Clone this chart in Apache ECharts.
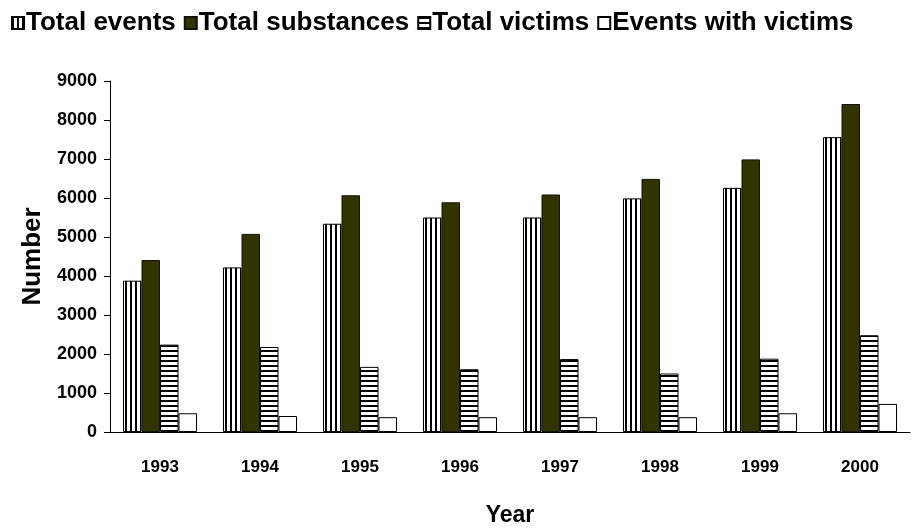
<!DOCTYPE html>
<html>
<head>
<meta charset="utf-8">
<script src="https://cdn.jsdelivr.net/npm/echarts@6/dist/echarts.min.js"></script>
<style>
  html, body { margin: 0; padding: 0; background: #fff; }
  #chart { width: 917px; height: 531px; }
</style>
</head>
<body>
<div id="chart"></div>
<script>
// data
const years = ['1993', '1994', '1995', '1996', '1997', '1998', '1999', '2000'];
const totalEvents = [3880, 4220, 5340, 5500, 5500, 5990, 6260, 7560];
const totalSubstances = [4410, 5080, 6070, 5890, 6090, 6490, 6990, 8410];
const totalVictims = [2240, 2180, 1670, 1610, 1870, 1500, 1880, 2480];
const eventsWithVictims = [480, 410, 380, 380, 380, 380, 480, 720];
const seriesNames = ['Total events', 'Total substances', 'Total victims', 'Events with victims'];

// small canvas patterns for striped bars
function makeStripes(vertical) {
  const c = document.createElement('canvas');
  c.width = vertical ? 5 : 1;
  c.height = vertical ? 1 : 5;
  const ctx = c.getContext('2d');
  ctx.fillStyle = '#fff';
  ctx.fillRect(0, 0, c.width, c.height);
  ctx.fillStyle = '#000';
  if (vertical) ctx.fillRect(0, 0, 2, 1);
  else ctx.fillRect(0, 0, 1, 2);
  return { image: c, repeat: 'repeat' };
}

const chart = echarts.init(document.getElementById('chart'));
const fontMain = 'Liberation Sans, Arial, sans-serif';

const barBase = {
  type: 'bar',
  barGap: '0%',
  barCategoryGap: '26%',
  animation: false
};

const option = {
  backgroundColor: '#fff',
  textStyle: { fontFamily: fontMain, color: '#000' },
  legend: {
    top: 5,
    left: 6,
    icon: 'rect',
    itemWidth: 12,
    itemHeight: 12,
    itemGap: 8,
    textStyle: {
      fontSize: 26,
      fontWeight: 'bold',
      color: '#000',
      padding: [0, 0, 0, -3]
    },
    data: seriesNames
  },
  grid: { left: 110, right: 7, top: 81, bottom: 99, outerBoundsMode: 'none' },
  xAxis: {
    type: 'category',
    data: years,
    name: 'Year',
    nameLocation: 'middle',
    nameGap: 72,
    nameTextStyle: { fontSize: 23, fontWeight: 'bold' },
    axisLine: { lineStyle: { color: '#000', width: 1 } },
    axisTick: { show: false },
    axisLabel: { fontSize: 17, fontWeight: 'bold', color: '#000', margin: 27 }
  },
  yAxis: {
    type: 'value',
    min: 0,
    max: 9000,
    interval: 1000,
    name: 'Number',
    nameLocation: 'middle',
    nameGap: 64,
    nameTextStyle: { fontSize: 26, fontWeight: 'bold' },
    axisLine: { show: true, lineStyle: { color: '#000', width: 1 } },
    axisTick: { show: true, length: 6, lineStyle: { color: '#000' } },
    axisLabel: {
      fontSize: 18,
      fontWeight: 'bold',
      color: '#000',
      margin: 13,
      formatter: v => String(v)
    },
    splitLine: { show: false }
  },
  series: [
    Object.assign({}, barBase, {
      name: seriesNames[0],
      data: totalEvents,
      itemStyle: { color: makeStripes(true), borderColor: '#000', borderWidth: 1 }
    }),
    Object.assign({}, barBase, {
      name: seriesNames[1],
      data: totalSubstances,
      itemStyle: { color: '#333300', borderColor: '#111', borderWidth: 1 }
    }),
    Object.assign({}, barBase, {
      name: seriesNames[2],
      data: totalVictims,
      itemStyle: { color: makeStripes(false), borderColor: '#000', borderWidth: 1 }
    }),
    Object.assign({}, barBase, {
      name: seriesNames[3],
      data: eventsWithVictims,
      itemStyle: { color: '#fff', borderColor: '#000', borderWidth: 1 }
    })
  ]
};

chart.setOption(option);
</script>
</body>
</html>
